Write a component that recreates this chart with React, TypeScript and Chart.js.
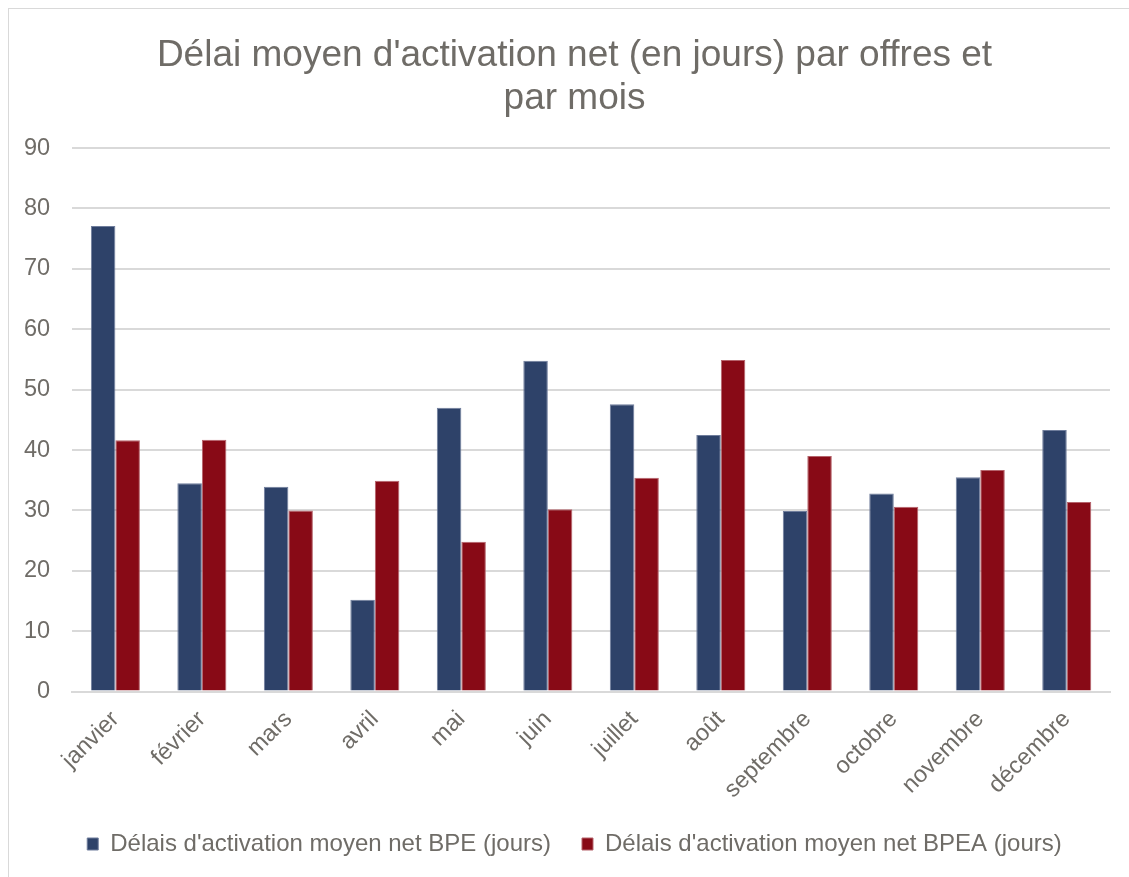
import React, { useEffect, useRef } from "react";
import { Chart, registerables } from "chart.js";

Chart.register(...registerables);

const months = [
  "janvier",
  "février",
  "mars",
  "avril",
  "mai",
  "juin",
  "juillet",
  "août",
  "septembre",
  "octobre",
  "novembre",
  "décembre",
];

const bpeValues = [77.1, 34.5, 33.9, 15.2, 47.0, 54.8, 47.6, 42.5, 29.9, 32.8, 35.5, 43.3];
const bpeaValues = [41.6, 41.7, 30.0, 34.9, 24.8, 30.2, 35.4, 54.9, 39.0, 30.6, 36.7, 31.4];

const bpeLabel = "Délais d'activation moyen net BPE (jours)";
const bpeaLabel = "Délais d'activation moyen net BPEA (jours)";
const titleLines = ["Délai moyen d'activation net (en jours) par offres et", "par mois"];

const FONT = "'Liberation Sans', Arial, sans-serif";
const TEXT = "#6f6c67";

export default function App() {
  const ref = useRef<HTMLCanvasElement | null>(null);

  useEffect(() => {
    if (!ref.current) return;
    const chart = new Chart(ref.current, {
      type: "bar",
      data: {
        labels: months,
        datasets: [
          {
            label: bpeLabel,
            data: bpeValues,
            backgroundColor: "#2E4269",
            borderColor: "#6f7d9c",
            borderWidth: 1,
            categoryPercentage: 0.567,
            barPercentage: 1.0,
          },
          {
            label: bpeaLabel,
            data: bpeaValues,
            backgroundColor: "#880A16",
            borderColor: "#b5636b",
            borderWidth: 1,
            categoryPercentage: 0.567,
            barPercentage: 1.0,
          },
        ],
      },
      options: {
        responsive: false,
        animation: false,
        layout: { padding: { left: 15, right: 4, top: 0, bottom: 11 } },
        plugins: {
          title: {
            display: true,
            text: titleLines,
            color: TEXT,
            font: { family: FONT, size: 37, weight: "normal", lineHeight: 1.15 },
            padding: { top: 26, bottom: 28 },
          },
          legend: {
            position: "bottom",
            labels: {
              color: TEXT,
              font: { family: FONT, size: 24 },
              boxWidth: 11,
              boxHeight: 12,
              padding: 31,
            },
          },
          tooltip: { enabled: false },
        },
        scales: {
          x: {
            grid: { display: false, drawTicks: false },
            border: { color: "#d9d9d9", width: 2 },
            ticks: {
              color: TEXT,
              font: { family: FONT, size: 23.5 },
              maxRotation: 45,
              minRotation: 45,
              padding: 14,
            },
            afterFit: (scale: any) => {
              scale.paddingLeft = 0;
              scale.paddingRight = 19;
              scale.height = scale.height - 17;
            },
          },
          y: {
            min: 0,
            max: 90,
            grid: { color: "#d9d9d9", lineWidth: 2, drawTicks: false },
            border: { display: false },
            ticks: {
              stepSize: 10,
              color: TEXT,
              font: { family: FONT, size: 23.5 },
              padding: 22,
            },
            afterFit: (scale: any) => {
              scale.width = scale.width - 22;
            },
          },
        },
      },
    });
    return () => chart.destroy();
  }, []);

  return (
    <div
      style={{
        position: "absolute",
        left: 8,
        top: 8,
        width: 1121,
        height: 869,
        borderTop: "1px solid #d9d9d9",
        borderLeft: "1px solid #d9d9d9",
        background: "#fff",
        overflow: "hidden",
      }}
    >
      <canvas ref={ref} width={1120} height={868} style={{ display: "block" }} />
    </div>
  );
}
